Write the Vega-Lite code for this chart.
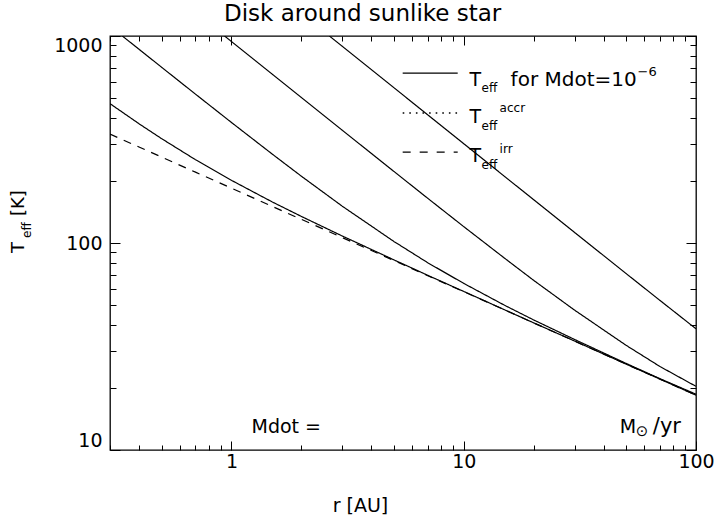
{
  "$schema": "https://vega.github.io/schema/vega-lite/v6.json",
  "width": 586,
  "height": 414,
  "autosize": {"type": "none"},
  "padding": {"left": 110, "top": 36, "right": 19, "bottom": 71},
  "background": "white",
  "config": {"view": {"stroke": "black", "strokeWidth": 1.3}, "font": "DejaVu Sans", "text": {"font": "DejaVu Sans", "color": "black"}},
  "datasets": {
    "curves": [
      {"s": "irr", "r": 0.3, "T": 335.9}, {"s": "irr", "r": 0.4, "T": 290.9}, {"s": "irr", "r": 0.5, "T": 260.2}, {"s": "irr", "r": 0.7, "T": 219.9}, {"s": "irr", "r": 1, "T": 184}, {"s": "irr", "r": 1.5, "T": 150.2}, {"s": "irr", "r": 2, "T": 130.1}, {"s": "irr", "r": 3, "T": 106.2}, {"s": "irr", "r": 5, "T": 82.3}, {"s": "irr", "r": 7, "T": 69.5}, {"s": "irr", "r": 10, "T": 58.2}, {"s": "irr", "r": 15, "T": 47.5}, {"s": "irr", "r": 20, "T": 41.1}, {"s": "irr", "r": 30, "T": 33.6}, {"s": "irr", "r": 50, "T": 26.0}, {"s": "irr", "r": 70, "T": 22.0}, {"s": "irr", "r": 100, "T": 18.4},
      {"s": "A", "r": 0.3, "T": 471.2}, {"s": "A", "r": 0.4, "T": 376.8}, {"s": "A", "r": 0.5, "T": 319.4}, {"s": "A", "r": 0.7, "T": 252.6}, {"s": "A", "r": 1, "T": 200.8}, {"s": "A", "r": 1.5, "T": 157.8}, {"s": "A", "r": 2, "T": 134.4}, {"s": "A", "r": 3, "T": 108.1}, {"s": "A", "r": 5, "T": 82.95}, {"s": "A", "r": 7, "T": 69.8}, {"s": "A", "r": 10, "T": 58.35}, {"s": "A", "r": 15, "T": 47.56}, {"s": "A", "r": 20, "T": 41.14}, {"s": "A", "r": 30, "T": 33.61}, {"s": "A", "r": 50, "T": 26.0}, {"s": "A", "r": 70, "T": 22.0}, {"s": "A", "r": 100, "T": 18.4},
      {"s": "B", "r": 0.339, "T": 1000}, {"s": "B", "r": 0.4, "T": 862.8}, {"s": "B", "r": 0.5, "T": 706.8}, {"s": "B", "r": 0.7, "T": 523.8}, {"s": "B", "r": 1, "T": 382.2}, {"s": "B", "r": 1.5, "T": 268.6}, {"s": "B", "r": 2, "T": 210.2}, {"s": "B", "r": 3, "T": 150.6}, {"s": "B", "r": 5, "T": 101.8}, {"s": "B", "r": 7, "T": 80.3}, {"s": "B", "r": 10, "T": 63.8}, {"s": "B", "r": 15, "T": 50.0}, {"s": "B", "r": 20, "T": 42.5}, {"s": "B", "r": 30, "T": 34.2}, {"s": "B", "r": 50, "T": 26.2}, {"s": "B", "r": 70, "T": 22.1}, {"s": "B", "r": 100, "T": 18.6},
      {"s": "C", "r": 0.934, "T": 1000}, {"s": "C", "r": 1, "T": 940.3}, {"s": "C", "r": 1.5, "T": 653.1}, {"s": "C", "r": 2, "T": 504.3}, {"s": "C", "r": 3, "T": 350.5}, {"s": "C", "r": 5, "T": 221.9}, {"s": "C", "r": 7, "T": 164.4}, {"s": "C", "r": 10, "T": 120.0}, {"s": "C", "r": 15, "T": 84.4}, {"s": "C", "r": 20, "T": 66.0}, {"s": "C", "r": 30, "T": 47.4}, {"s": "C", "r": 50, "T": 32.05}, {"s": "C", "r": 70, "T": 25.3}, {"s": "C", "r": 100, "T": 20.3},
      {"s": "D", "r": 2.64, "T": 1000}, {"s": "D", "r": 3, "T": 892.0}, {"s": "D", "r": 5, "T": 563.2}, {"s": "D", "r": 7, "T": 416.0}, {"s": "D", "r": 10, "T": 301.9}, {"s": "D", "r": 15, "T": 209.6}, {"s": "D", "r": 20, "T": 161.9}, {"s": "D", "r": 30, "T": 112.5}, {"s": "D", "r": 50, "T": 71.2}, {"s": "D", "r": 70, "T": 52.77}, {"s": "D", "r": 100, "T": 38.5}
    ]
  },
  "layer": [
    {
      "data": {"name": "curves"},
      "mark": {"type": "line", "clip": true, "color": "black", "strokeWidth": 1.2},
      "encoding": {
        "x": {"field": "r", "type": "quantitative", "scale": {"type": "log", "domain": [0.3, 100], "nice": false},
          "axis": {"orient": "bottom", "values": [0.3, 0.4, 0.5, 0.6, 0.7, 0.8, 0.9, 1, 2, 3, 4, 5, 6, 7, 8, 9, 10, 20, 30, 40, 50, 60, 70, 80, 90, 100],
            "domain": false, "grid": false, "tickSize": -9, "tickColor": "black", "tickWidth": 1,
            "tickDash": {"condition": {"test": "indexof([1,10,100], datum.value) >= 0", "value": [20, 1]}, "value": [5, 100]},
            "labelExpr": "datum.value == 1 ? '1' : datum.value == 10 ? '10' : datum.value == 100 ? '100' : ''",
            "labelFont": "DejaVu Sans", "labelFontSize": 19, "labelColor": "black", "labelPadding": 11, "labelFlush": false, "labelOverlap": false,
            "title": "r [AU]", "titleFont": "DejaVu Sans", "titleFontSize": 19, "titleFontWeight": "normal", "titleColor": "black", "titleX": 250, "titleY": 61, "titleBaseline": "alphabetic"}},
        "y": {"field": "T", "type": "quantitative", "scale": {"type": "log", "domain": [10, 1000], "nice": false},
          "axis": {"orient": "left", "values": [10, 20, 30, 40, 50, 60, 70, 80, 90, 100, 200, 300, 400, 500, 600, 700, 800, 900, 1000],
            "domain": false, "grid": false, "tickSize": -10, "tickColor": "black", "tickWidth": 1,
            "tickDash": {"condition": {"test": "indexof([10,100,1000], datum.value) >= 0", "value": [20, 1]}, "value": [6, 100]},
            "labelExpr": "datum.value == 10 ? '10' : datum.value == 100 ? '100' : datum.value == 1000 ? '1000' : ''",
            "labelFont": "DejaVu Sans", "labelFontSize": 19, "labelColor": "black", "labelPadding": 18, "labelFlush": true, "labelOverlap": false,
            "title": null}},
        "strokeDash": {"field": "s", "type": "nominal", "scale": {"domain": ["A", "B", "C", "D", "irr"], "range": [[1, 0], [1, 0], [1, 0], [1, 0], [8, 7]]}, "legend": null}
      }
    },
    {
      "data": {"name": "curves"},
      "mark": {"type": "point", "opacity": 0, "clip": true},
      "encoding": {
        "x": {"field": "r", "type": "quantitative", "scale": {"type": "log", "domain": [0.3, 100], "nice": false},
          "axis": {"orient": "top", "values": [0.3, 0.4, 0.5, 0.6, 0.7, 0.8, 0.9, 1, 2, 3, 4, 5, 6, 7, 8, 9, 10, 20, 30, 40, 50, 60, 70, 80, 90, 100],
            "domain": false, "grid": false, "labels": false, "title": null, "minExtent": 0, "tickSize": -9, "tickColor": "black", "tickWidth": 1,
            "tickDash": {"condition": {"test": "indexof([1,10,100], datum.value) >= 0", "value": [20, 1]}, "value": [5, 100]}}},
        "y": {"field": "T", "type": "quantitative", "scale": {"type": "log", "domain": [10, 1000], "nice": false},
          "axis": {"orient": "right", "values": [10, 20, 30, 40, 50, 60, 70, 80, 90, 100, 200, 300, 400, 500, 600, 700, 800, 900, 1000],
            "domain": false, "grid": false, "labels": false, "title": null, "minExtent": 0, "tickSize": -10, "tickColor": "black", "tickWidth": 1,
            "tickDash": {"condition": {"test": "indexof([10,100,1000], datum.value) >= 0", "value": [20, 1]}, "value": [6, 100]}}}
      }
    },
    {"data": {"values": [{}]}, "mark": {"type": "text", "text": "Disk around sunlike star", "fontSize": 23, "align": "center", "baseline": "alphabetic"},
      "encoding": {"x": {"datum": 3.67, "type": "quantitative", "scale": {"type": "log", "domain": [0.3, 100], "nice": false}, "axis": null}, "y": {"datum": 1181, "type": "quantitative", "scale": {"type": "log", "domain": [10, 1000], "nice": false}, "axis": null}}},
    {"data": {"values": [{}]}, "mark": {"type": "rule", "color": "black", "strokeWidth": 1.2},
      "encoding": {"x": {"datum": 5.46, "type": "quantitative", "scale": {"type": "log", "domain": [0.3, 100], "nice": false}, "axis": null}, "x2": {"datum": 9.42}, "y": {"datum": 662, "type": "quantitative", "scale": {"type": "log", "domain": [10, 1000], "nice": false}, "axis": null}}},
    {"data": {"values": [{}]}, "mark": {"type": "rule", "color": "black", "strokeWidth": 1.6, "strokeDash": [1.6, 5]},
      "encoding": {"x": {"datum": 5.46, "type": "quantitative", "scale": {"type": "log", "domain": [0.3, 100], "nice": false}, "axis": null}, "x2": {"datum": 9.42}, "y": {"datum": 424.7, "type": "quantitative", "scale": {"type": "log", "domain": [10, 1000], "nice": false}, "axis": null}}},
    {"data": {"values": [{}]}, "mark": {"type": "rule", "color": "black", "strokeWidth": 1.2, "strokeDash": [8, 9]},
      "encoding": {"x": {"datum": 5.46, "type": "quantitative", "scale": {"type": "log", "domain": [0.3, 100], "nice": false}, "axis": null}, "x2": {"datum": 9.42}, "y": {"datum": 275, "type": "quantitative", "scale": {"type": "log", "domain": [10, 1000], "nice": false}, "axis": null}}},

    {"data": {"values": [{}]}, "mark": {"type": "text", "text": "T", "fontSize": 19, "align": "left", "baseline": "alphabetic", "dx": 0, "dy": 13},
      "encoding": {"x": {"datum": 10.6, "type": "quantitative", "scale": {"type": "log", "domain": [0.3, 100], "nice": false}, "axis": null}, "y": {"datum": 662, "type": "quantitative", "scale": {"type": "log", "domain": [10, 1000], "nice": false}, "axis": null}}},
    {"data": {"values": [{}]}, "mark": {"type": "text", "text": "eff", "fontSize": 12, "align": "left", "baseline": "alphabetic", "dx": 12, "dy": 19},
      "encoding": {"x": {"datum": 10.6, "type": "quantitative", "scale": {"type": "log", "domain": [0.3, 100], "nice": false}, "axis": null}, "y": {"datum": 662, "type": "quantitative", "scale": {"type": "log", "domain": [10, 1000], "nice": false}, "axis": null}}},
    {"data": {"values": [{}]}, "mark": {"type": "text", "text": "for  Mdot=10", "fontSize": 20, "align": "left", "baseline": "alphabetic", "dx": 41, "dy": 13},
      "encoding": {"x": {"datum": 10.6, "type": "quantitative", "scale": {"type": "log", "domain": [0.3, 100], "nice": false}, "axis": null}, "y": {"datum": 662, "type": "quantitative", "scale": {"type": "log", "domain": [10, 1000], "nice": false}, "axis": null}}},
    {"data": {"values": [{}]}, "mark": {"type": "text", "text": "−6", "fontSize": 13, "align": "left", "baseline": "alphabetic", "dx": 168, "dy": 3},
      "encoding": {"x": {"datum": 10.6, "type": "quantitative", "scale": {"type": "log", "domain": [0.3, 100], "nice": false}, "axis": null}, "y": {"datum": 662, "type": "quantitative", "scale": {"type": "log", "domain": [10, 1000], "nice": false}, "axis": null}}},

    {"data": {"values": [{}]}, "mark": {"type": "text", "text": "T", "fontSize": 19, "align": "left", "baseline": "alphabetic", "dx": 0, "dy": 10},
      "encoding": {"x": {"datum": 10.6, "type": "quantitative", "scale": {"type": "log", "domain": [0.3, 100], "nice": false}, "axis": null}, "y": {"datum": 424.7, "type": "quantitative", "scale": {"type": "log", "domain": [10, 1000], "nice": false}, "axis": null}}},
    {"data": {"values": [{}]}, "mark": {"type": "text", "text": "eff", "fontSize": 12, "align": "left", "baseline": "alphabetic", "dx": 12, "dy": 17},
      "encoding": {"x": {"datum": 10.6, "type": "quantitative", "scale": {"type": "log", "domain": [0.3, 100], "nice": false}, "axis": null}, "y": {"datum": 424.7, "type": "quantitative", "scale": {"type": "log", "domain": [10, 1000], "nice": false}, "axis": null}}},
    {"data": {"values": [{}]}, "mark": {"type": "text", "text": "accr", "fontSize": 12, "align": "left", "baseline": "alphabetic", "dx": 30, "dy": -1},
      "encoding": {"x": {"datum": 10.6, "type": "quantitative", "scale": {"type": "log", "domain": [0.3, 100], "nice": false}, "axis": null}, "y": {"datum": 424.7, "type": "quantitative", "scale": {"type": "log", "domain": [10, 1000], "nice": false}, "axis": null}}},

    {"data": {"values": [{}]}, "mark": {"type": "text", "text": "T", "fontSize": 19, "align": "left", "baseline": "alphabetic", "dx": 0, "dy": 10},
      "encoding": {"x": {"datum": 10.6, "type": "quantitative", "scale": {"type": "log", "domain": [0.3, 100], "nice": false}, "axis": null}, "y": {"datum": 275, "type": "quantitative", "scale": {"type": "log", "domain": [10, 1000], "nice": false}, "axis": null}}},
    {"data": {"values": [{}]}, "mark": {"type": "text", "text": "eff", "fontSize": 12, "align": "left", "baseline": "alphabetic", "dx": 12, "dy": 17},
      "encoding": {"x": {"datum": 10.6, "type": "quantitative", "scale": {"type": "log", "domain": [0.3, 100], "nice": false}, "axis": null}, "y": {"datum": 275, "type": "quantitative", "scale": {"type": "log", "domain": [10, 1000], "nice": false}, "axis": null}}},
    {"data": {"values": [{}]}, "mark": {"type": "text", "text": "irr", "fontSize": 12, "align": "left", "baseline": "alphabetic", "dx": 30, "dy": 1},
      "encoding": {"x": {"datum": 10.6, "type": "quantitative", "scale": {"type": "log", "domain": [0.3, 100], "nice": false}, "axis": null}, "y": {"datum": 275, "type": "quantitative", "scale": {"type": "log", "domain": [10, 1000], "nice": false}, "axis": null}}},

    {"data": {"values": [{}]}, "mark": {"type": "text", "text": "Mdot  =", "fontSize": 19, "align": "left", "baseline": "alphabetic"},
      "encoding": {"x": {"datum": 1.22, "type": "quantitative", "scale": {"type": "log", "domain": [0.3, 100], "nice": false}, "axis": null}, "y": {"datum": 12.08, "type": "quantitative", "scale": {"type": "log", "domain": [10, 1000], "nice": false}, "axis": null}}},
    {"data": {"values": [{}]}, "mark": {"type": "text", "text": "M", "fontSize": 19, "align": "left", "baseline": "alphabetic"},
      "encoding": {"x": {"datum": 47.0, "type": "quantitative", "scale": {"type": "log", "domain": [0.3, 100], "nice": false}, "axis": null}, "y": {"datum": 12.08, "type": "quantitative", "scale": {"type": "log", "domain": [10, 1000], "nice": false}, "axis": null}}},
    {"data": {"values": [{}]}, "mark": {"type": "text", "text": "⊙", "fontSize": 15, "align": "left", "baseline": "alphabetic", "dx": 16, "dy": 3},
      "encoding": {"x": {"datum": 47.0, "type": "quantitative", "scale": {"type": "log", "domain": [0.3, 100], "nice": false}, "axis": null}, "y": {"datum": 12.08, "type": "quantitative", "scale": {"type": "log", "domain": [10, 1000], "nice": false}, "axis": null}}},
    {"data": {"values": [{}]}, "mark": {"type": "text", "text": "/yr", "fontSize": 21, "align": "left", "baseline": "alphabetic", "dx": 33},
      "encoding": {"x": {"datum": 47.0, "type": "quantitative", "scale": {"type": "log", "domain": [0.3, 100], "nice": false}, "axis": null}, "y": {"datum": 12.08, "type": "quantitative", "scale": {"type": "log", "domain": [10, 1000], "nice": false}, "axis": null}}},

    {"data": {"values": [{}]}, "mark": {"type": "text", "text": "T", "fontSize": 18, "align": "left", "baseline": "alphabetic", "angle": 270},
      "encoding": {"x": {"datum": 0.128, "type": "quantitative", "scale": {"type": "log", "domain": [0.3, 100], "nice": false}, "axis": null}, "y": {"datum": 89.5, "type": "quantitative", "scale": {"type": "log", "domain": [10, 1000], "nice": false}, "axis": null}}},
    {"data": {"values": [{}]}, "mark": {"type": "text", "text": "eff", "fontSize": 12, "align": "left", "baseline": "alphabetic", "angle": 270, "dx": 15, "dy": 7},
      "encoding": {"x": {"datum": 0.128, "type": "quantitative", "scale": {"type": "log", "domain": [0.3, 100], "nice": false}, "axis": null}, "y": {"datum": 89.5, "type": "quantitative", "scale": {"type": "log", "domain": [10, 1000], "nice": false}, "axis": null}}},
    {"data": {"values": [{}]}, "mark": {"type": "text", "text": "[K]", "fontSize": 18, "align": "left", "baseline": "alphabetic", "angle": 270, "dx": 37},
      "encoding": {"x": {"datum": 0.128, "type": "quantitative", "scale": {"type": "log", "domain": [0.3, 100], "nice": false}, "axis": null}, "y": {"datum": 89.5, "type": "quantitative", "scale": {"type": "log", "domain": [10, 1000], "nice": false}, "axis": null}}}
  ],
  "resolve": {"axis": {"x": "independent", "y": "independent"}}
}
